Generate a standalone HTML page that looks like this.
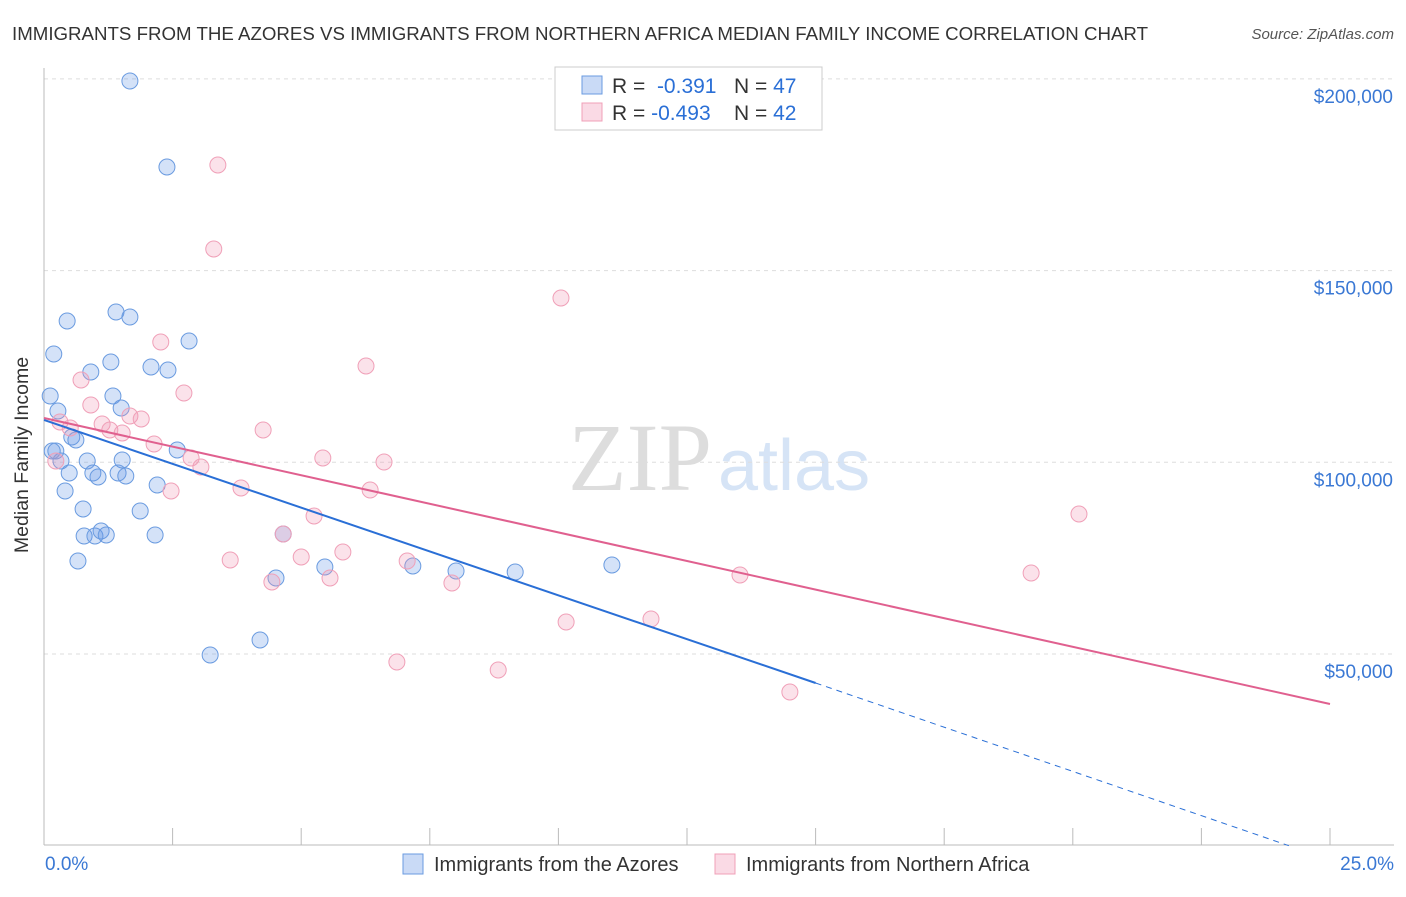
<!DOCTYPE html>
<html><head><meta charset="utf-8"><style>
body{margin:0;background:#fff;font-family:"Liberation Sans",sans-serif;}
</style></head><body>
<svg id="c" width="1406" height="892" xmlns="http://www.w3.org/2000/svg" style="font-family:'Liberation Sans',sans-serif">
<text x="12" y="40" font-size="18" fill="#333" textLength="1136" lengthAdjust="spacingAndGlyphs">IMMIGRANTS FROM THE AZORES VS IMMIGRANTS FROM NORTHERN AFRICA MEDIAN FAMILY INCOME CORRELATION CHART</text>
<text x="1394" y="39" font-size="15" fill="#555" text-anchor="end" font-style="italic">Source: ZipAtlas.com</text>
<text x="28" y="455" font-size="19.5" fill="#333" text-anchor="middle" transform="rotate(-90 28 455)">Median Family Income</text>
<text x="712" y="490" font-size="96" fill="#ddd" text-anchor="end" font-family="Liberation Serif">ZIP</text>
<text x="718" y="490" font-size="72" fill="#d6e4f6">atlas</text>
<g id="grid"></g><g id="pts"></g><g id="lines"></g>
<g>
<rect x="555" y="67" width="267" height="63" fill="#fff" stroke="#ccc"/>
<rect x="582" y="76" width="20" height="18" fill="rgba(100,150,230,0.35)" stroke="#6a9be0"/>
<rect x="582" y="103" width="20" height="18" fill="rgba(240,150,180,0.35)" stroke="#f0a0b8"/>
<text x="612" y="93" font-size="21" fill="#333">R = <tspan fill="#2a6fd6">&#160;-0.391</tspan><tspan x="734">N = </tspan><tspan fill="#2a6fd6">47</tspan></text>
<text x="612" y="120" font-size="21" fill="#333">R = <tspan fill="#2a6fd6">-0.493</tspan><tspan x="734">N = </tspan><tspan fill="#2a6fd6">42</tspan></text>
</g>
<g>
<rect x="403" y="854" width="20" height="20" fill="rgba(100,150,230,0.35)" stroke="#6a9be0"/>
<text x="434" y="871" font-size="20" fill="#333">Immigrants from the Azores</text>
<rect x="715" y="854" width="20" height="20" fill="rgba(240,150,180,0.35)" stroke="#f0a0b8"/>
<text x="746" y="871" font-size="20" fill="#333">Immigrants from Northern Africa</text>
</g>
</svg>
<script>
const yTicks=[50000,100000,150000,200000];
const yTickLabels=["$50,000","$100,000","$150,000","$200,000"];
const xTickLabels=["0.0%","25.0%"];
const bluePx=[[130,81],[167,167],[67,321],[116,312],[130,317],[54,354],[189,341],[111,362],[151,367],[168,370],[91,372],[50,396],[113,396],[121,408],[58,411],[72,437],[76,440],[56,451],[177,450],[87,461],[122,460],[61,461],[93,473],[69,473],[98,477],[118,473],[126,476],[65,491],[157,485],[83,509],[140,511],[84,536],[95,536],[101,531],[106,535],[155,535],[78,561],[283,534],[325,567],[276,578],[413,566],[456,571],[515,572],[612,565],[260,640],[210,655],[52,451]];
const pinkPx=[[218,165],[214,249],[561,298],[366,366],[161,342],[81,380],[184,393],[91,405],[60,422],[70,428],[102,424],[110,430],[130,416],[141,419],[122,433],[154,444],[263,430],[191,458],[201,467],[56,461],[171,491],[241,488],[323,458],[384,462],[370,490],[314,516],[1079,514],[283,534],[230,560],[301,557],[343,552],[407,561],[330,578],[272,582],[452,583],[740,575],[1031,573],[566,622],[651,619],[397,662],[498,670],[790,692]];
const blueX=bluePx.map(p=>+((p[0]-44)/1286*25).toFixed(2));
const blueY=bluePx.map(p=>Math.round(50000+(654-p[1])*50000/191.7));
const pinkX=pinkPx.map(p=>+((p[0]-44)/1286*25).toFixed(2));
const pinkY=pinkPx.map(p=>Math.round(50000+(654-p[1])*50000/191.7));
const blueLine=[[0,111040],[15,42437]];
const blueDash=[[15,42437],[24.2,0]];
const pinkLine=[[0,111550],[25,36960]];
const X=v=>44+v/25*1286, Y=v=>654-(v-50000)*191.7/50000;
const NS="http://www.w3.org/2000/svg";
function mk(t,a,p){const e=document.createElementNS(NS,t);for(const k in a)e.setAttribute(k,a[k]);p.appendChild(e);return e;}
const g=document.getElementById('grid'),svg=document.getElementById('c');
yTicks.forEach((v,i)=>{const l=mk('line',{x1:44,x2:1394,y1:Y(v),y2:Y(v),stroke:'#ddd','stroke-dasharray':'4 4'},g);

const t=mk('text',{x:1393,y:Y(v)+24,'font-size':19,fill:'#3a78d4','text-anchor':'end'},g);t.textContent=yTickLabels[i];
});
const ax=mk('line',{x1:44,x2:44,y1:68,y2:845,stroke:'#bbb'},g);
const bx=mk('line',{x1:44,x2:1394,y1:845,y2:845,stroke:'#bbb'},g);
for(let i=0;i<=10;i++){const t=mk('line',{x1:X(i*2.5),x2:X(i*2.5),y1:828,y2:845,stroke:'#bbb'},g);}
[[0,'start',45],[25,'end',1394]].forEach((d,i)=>{const t=mk('text',{x:d[2],y:870,'font-size':19,fill:'#3a78d4','text-anchor':d[1]},g);t.textContent=xTickLabels[i];
});
const pg=document.getElementById('pts');
blueX.forEach((x,i)=>{const c=mk('circle',{cx:X(x),cy:Y(blueY[i]),r:8,fill:'rgba(100,150,230,0.28)',stroke:'#6a9be0','stroke-width':1},pg);
});
pinkX.forEach((x,i)=>{const c=mk('circle',{cx:X(x),cy:Y(pinkY[i]),r:8,fill:'rgba(240,150,180,0.28)',stroke:'#f0a0b8','stroke-width':1},pg);
});
const lg=document.getElementById('lines');
let l1=mk('line',{x1:X(blueLine[0][0]),y1:Y(blueLine[0][1]),x2:X(blueLine[1][0]),y2:Y(blueLine[1][1]),stroke:'#2a6fd6','stroke-width':2},lg);

let l2=mk('line',{x1:X(blueDash[0][0]),y1:Y(blueDash[0][1]),x2:X(blueDash[1][0]),y2:Y(blueDash[1][1]),stroke:'#2a6fd6','stroke-width':1,'stroke-dasharray':'6 5'},lg);

let l3=mk('line',{x1:X(pinkLine[0][0]),y1:Y(pinkLine[0][1]),x2:X(pinkLine[1][0]),y2:Y(pinkLine[1][1]),stroke:'#e0608f','stroke-width':2},lg);

</script>
</body></html>
